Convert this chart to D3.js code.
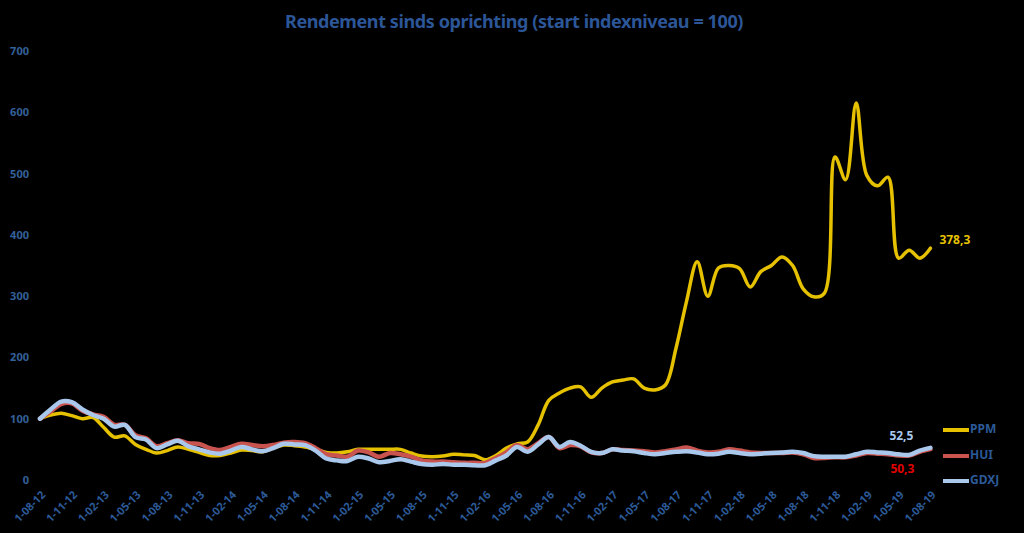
<!DOCTYPE html>
<html>
<head>
<meta charset="utf-8">
<script src="https://cdn.jsdelivr.net/npm/d3@7/dist/d3.min.js"></script>
<style>
  html, body { margin: 0; padding: 0; background: #000; }
  svg { display: block; }
  text { font-family: "Liberation Sans Narrow", "Noto Sans", sans-serif; font-weight: bold; }
</style>
</head>
<body>
<svg id="chart" width="1024" height="533"></svg>
<script>
const title = "Rendement sinds oprichting (start indexniveau = 100)";
const seriesNames = ["PPM", "HUI", "GDXJ"];
const seriesColors = ["#E5C100", "#C9544F", "#A9C8EC"];
const endLabels = ["378,3", "50,3", "52,5"];
const endLabelColors = ["#E5C100", "#E00000", "#A9C8EC"];
const yTicks = [0, 100, 200, 300, 400, 500, 600, 700];
const tickLabels = ["1-08-12","1-11-12","1-02-13","1-05-13","1-08-13","1-11-13","1-02-14","1-05-14","1-08-14","1-11-14","1-02-15","1-05-15","1-08-15","1-11-15","1-02-16","1-05-16","1-08-16","1-11-16","1-02-17","1-05-17","1-08-17","1-11-17","1-02-18","1-05-18","1-08-18","1-11-18","1-02-19","1-05-19","1-08-19"];

// monthly values, Aug 2012 .. Aug 2019
const ppm = [100,106,109,105,100,102,86,70,72,58,50,44,48,54,50,45,40,40,44,49,48,46,52,57,56,54,50,45,44,46,50,50,50,50,50,44,39,38,39,42,41,40,33,40,52,59,62,90,130,142,150,152,135,150,160,163,165,150,147,155,215,292,356,300,346,350,345,315,340,350,364,350,312,299,305,527,490,615,497,480,494,362,375,362,378.3];
const hui = [100,112,124,125,113,107,103,90,90,73,68,55,60,65,60,59,52,49,54,59,57,55,57,61,62,60,52,42,40,38,48,45,38,44,42,38,32,30,30,29,28,28,28,36,45,57,50,60,70,52,57,55,45,44,50,49,48,47,45,47,50,53,48,45,46,50,48,45,44,44,44,45,42,36,36,37,37,40,44,43,42,40,40,46,50.3];
const gdxj = [100,115,128,127,115,106,100,87,90,70,66,52,58,64,55,50,45,43,48,54,50,47,52,59,58,57,48,35,32,31,38,35,29,31,34,30,26,25,26,25,25,24,24,32,40,54,46,58,70,54,62,56,46,44,50,48,47,44,42,44,46,47,45,42,43,46,44,42,43,44,45,46,44,39,38,38,38,42,46,45,44,42,41,48,52.5];
const seriesValues = [ppm, hui, gdxj];

const svg = d3.select("#chart");
const months = d3.range(ppm.length);

const x = d3.scalePoint().domain(months).range([40, 930.4]);
const y = d3.scaleLinear().domain([0, 700]).range([480, 51]);

// title
svg.append("text")
  .attr("x", 514).attr("y", 28)
  .attr("text-anchor", "middle")
  .attr("fill", "#2C5697")
  .style("font-size", "18px")
  .style("letter-spacing", "-0.4px")
  .text(title);

// y axis labels
const yAxis = d3.axisLeft(y).tickValues(yTicks).tickSize(0).tickPadding(0);
const gy = svg.append("g").attr("transform", "translate(29,0)").call(yAxis);
gy.select(".domain").remove();
gy.selectAll("text")
  .attr("fill", "#34609A")
  .style("font-size", "11px")
  .style("font-family", "\"Liberation Sans Narrow\", \"Noto Sans\", sans-serif")
  .style("font-weight", "bold");

// x axis labels
const tickIdx = tickLabels.map((_, i) => i * 3);
const xAxis = d3.axisBottom(x).tickValues(tickIdx).tickSize(0).tickPadding(0)
  .tickFormat((d) => tickLabels[d / 3]);
const gx = svg.append("g").attr("transform", "translate(0,491)").call(xAxis);
gx.select(".domain").remove();
gx.selectAll("text")
  .attr("fill", "#2C5A98")
  .attr("text-anchor", "end")
  .attr("dy", "0.6em")
  .attr("transform", "translate(1,0) rotate(-45)")
  .style("font-size", "11px")
  .style("font-family", "\"Liberation Sans Narrow\", \"Noto Sans\", sans-serif")
  .style("font-weight", "bold");

// lines
const line = d3.line()
  .x((d, i) => x(i))
  .y((d) => y(d))
  .curve(d3.curveCatmullRom.alpha(0.5));

const widths = [3.5, 4.5, 4.5];
seriesValues.forEach((vals, k) => {
  svg.append("path")
    .datum(vals)
    .attr("fill", "none")
    .attr("stroke", seriesColors[k])
    .attr("stroke-width", widths[k])
    .attr("stroke-linejoin", "round")
    .attr("stroke-linecap", "round")
    .attr("d", line);
});

// end labels
const last = ppm.length - 1;
const endOffsets = [[9, -7], [-40, 21], [-41, -11]];
seriesValues.forEach((vals, k) => {
  svg.append("text")
    .attr("x", x(last) + endOffsets[k][0])
    .attr("y", y(vals[last]) + endOffsets[k][1])
    .attr("fill", endLabelColors[k])
    .attr("dominant-baseline", "middle")
    .style("font-size", "12px")
    .text(endLabels[k]);
});

// legend
const legY = [430, 456, 481];
seriesNames.forEach((name, k) => {
  svg.append("line")
    .attr("x1", 943).attr("x2", 969)
    .attr("y1", legY[k]).attr("y2", legY[k])
    .attr("stroke", seriesColors[k])
    .attr("stroke-width", 4);
  svg.append("text")
    .attr("x", 970).attr("y", legY[k])
    .attr("dominant-baseline", "middle")
    .attr("fill", "#2C5A98")
    .style("font-size", "12px")
    .text(name);
});
</script>
</body>
</html>
